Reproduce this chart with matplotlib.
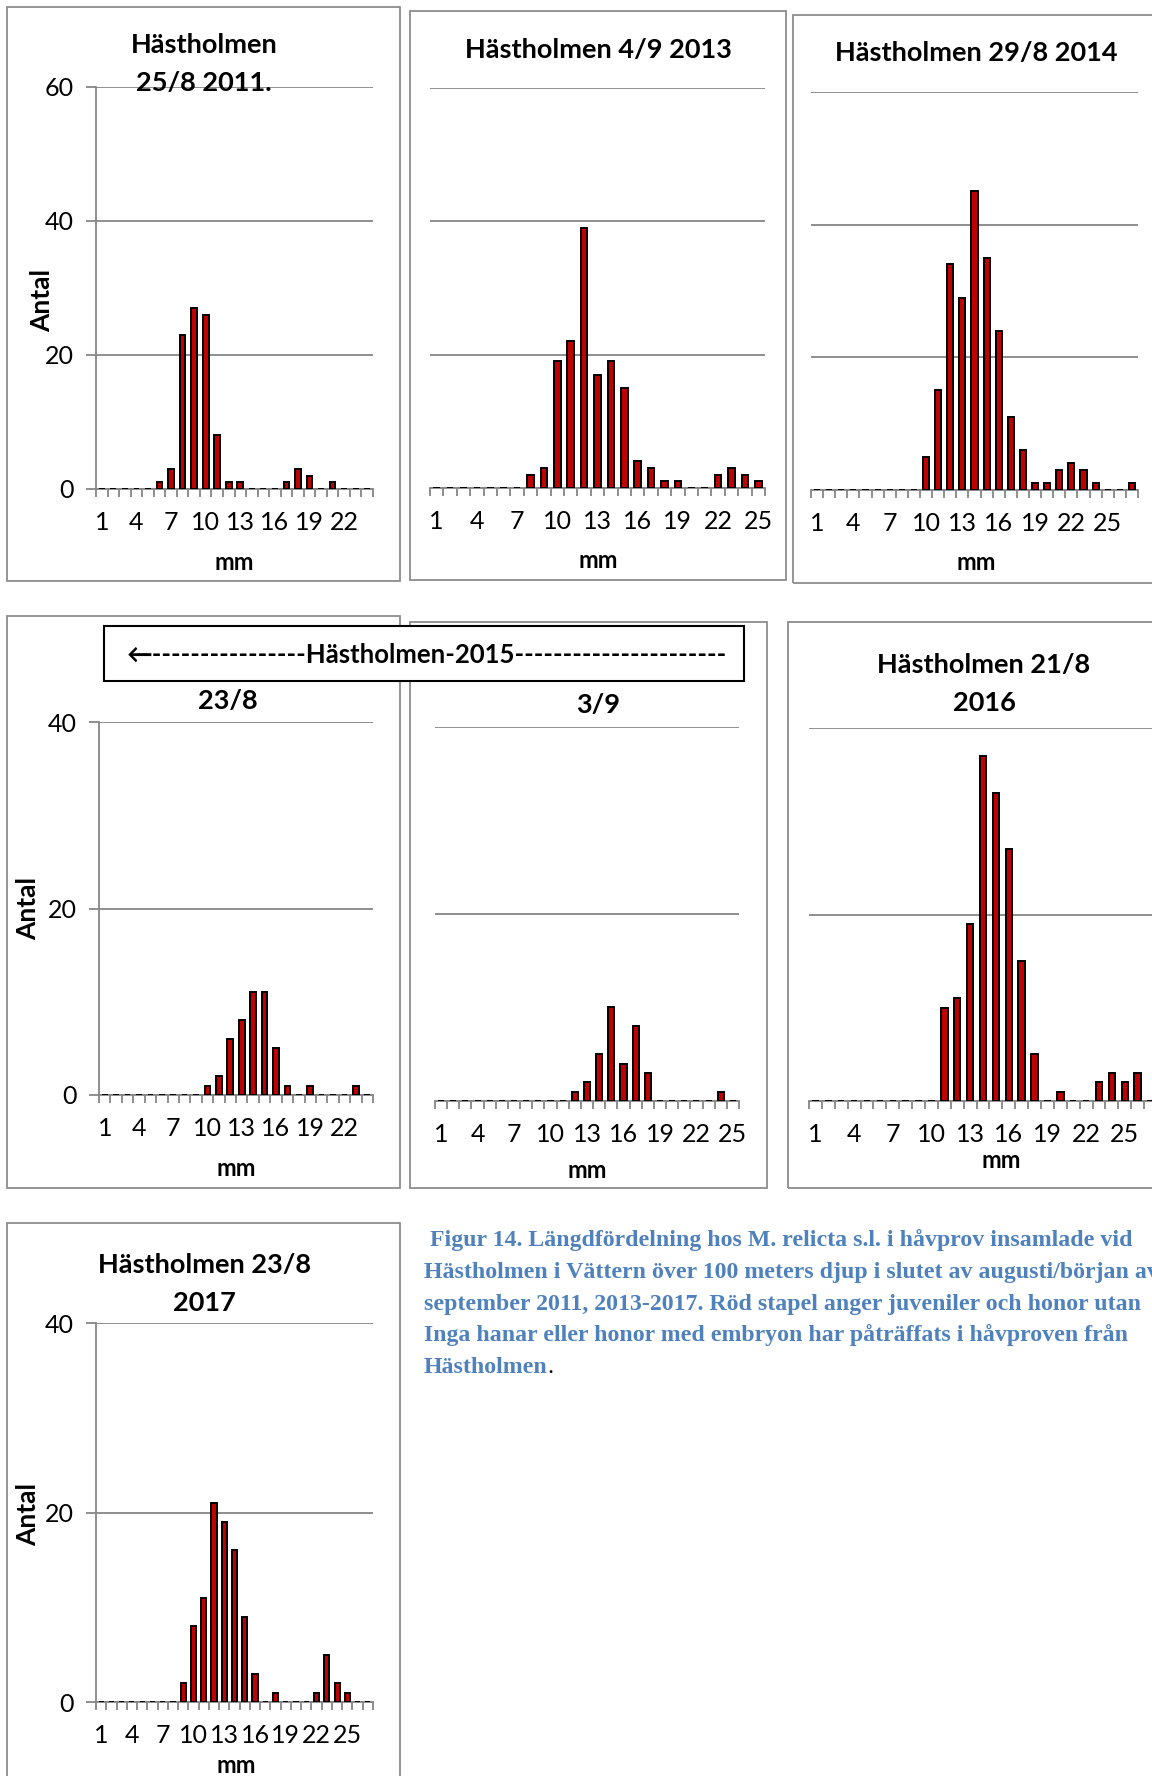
import matplotlib
matplotlib.use("Agg")
import matplotlib.pyplot as plt
from matplotlib.patches import Rectangle
from matplotlib.ticker import FixedLocator

plt.rcParams['font.family'] = ['Lato', 'DejaVu Sans']

W, H = 1152, 1776

# antal per längdklass (mm), från 1 mm och uppåt
counts_2011 = [0, 0, 0, 0, 0, 1, 3, 23, 27, 26, 8, 1, 1, 0, 0, 0, 1, 3, 2, 0, 1, 0, 0, 0]
counts_2013 = [0, 0, 0, 0, 0, 0, 0, 2, 3, 19, 22, 39, 17, 19, 15, 4, 3, 1, 1, 0, 0, 2, 3, 2, 1]
counts_2014 = [0, 0, 0, 0, 0, 0, 0, 0, 0, 5, 15, 34, 29, 45, 35, 24, 11, 6, 1, 1, 3, 4, 3, 1, 0, 0, 1]
counts_2015a = [0, 0, 0, 0, 0, 0, 0, 0, 0, 1, 2, 6, 8, 11, 11, 5, 1, 0, 1, 0, 0, 0, 1, 0]
counts_2015b = [0, 0, 0, 0, 0, 0, 0, 0, 0, 0, 0, 1, 2, 5, 10, 4, 8, 3, 0, 0, 0, 0, 0, 1, 0]
counts_2016 = [0, 0, 0, 0, 0, 0, 0, 0, 0, 0, 10, 11, 19, 37, 33, 27, 15, 5, 0, 1, 0, 0, 2, 3, 2, 3, 0]
counts_2017 = [0, 0, 0, 0, 0, 0, 0, 0, 2, 8, 11, 21, 19, 16, 9, 3, 0, 1, 0, 0, 0, 1, 5, 2, 1, 0, 0]

titles = ["Hästholmen\n25/8 2011.", "Hästholmen 4/9 2013", "Hästholmen 29/8 2014",
          "23/8", "3/9", "Hästholmen 21/8\n2016", "Hästholmen 23/8\n2017"]
series = [counts_2011, counts_2013, counts_2014, counts_2015a, counts_2015b, counts_2016, counts_2017]
ymax = [60, 60, 60, 40, 40, 40, 40]
show_y = [True, False, False, True, False, False, True]

legend_text = "←" + "-" * 16 + "Hästholmen-2015" + "-" * 22

caption = [" Figur 14. Längdfördelning hos M. relicta s.l. i håvprov insamlade vid",
           "Hästholmen i Vättern över 100 meters djup i slutet av augusti/början av",
           "september 2011, 2013-2017. Röd stapel anger juveniler och honor utan",
           "Inga hanar eller honor med embryon har påträffats i håvproven från",
           "Hästholmen"]

# layout in pixels: (left, top, right, bottom)
ax_px = [(96, 87, 373, 489), (430, 88, 765, 488), (811, 92, 1138, 490),
         (99, 722, 373, 1095), (435, 727, 739, 1101), (809, 728, 1157, 1101),
         (96, 1323, 373, 1702)]
box_px = [(7, 7, 400, 581), (410, 11, 786, 580), (793, 15, 1170, 583),
          (7, 616, 400, 1188), (410, 622, 767, 1188), (788, 622, 1170, 1188),
          (7, 1223, 400, 1800)]
title_px = [(204, 64), (598, 50), (976, 53), (228, 701), (598, 705), (984, 684), (204, 1284)]
mm_px = [(234, 562), (598, 560), (976, 563), (236, 1169), (587, 1171), (1001, 1160), (236, 1765)]
antal_px = [(42, 300), None, None, (28, 908), None, None, (28, 1514)]

GRID = '#868686'
RED = '#C00000'

fig = plt.figure(figsize=(W / 100, H / 100), dpi=100)


def fx(x):
    return x / W


def fy(y):
    return 1 - y / H


for i, counts in enumerate(series):
    l, t, r, b = ax_px[i]
    ax = fig.add_axes([fx(l), fy(b), fx(r) - fx(l), fy(t) - fy(b)])
    mm = list(range(1, len(counts) + 1))
    ax.bar(mm, counts, width=0.5, color=RED, edgecolor='black', linewidth=1.4, zorder=3)
    ax.set_xlim(0.5, len(counts) + 0.5)
    ax.set_ylim(0, ymax[i])
    ax.set_yticks(range(0, ymax[i] + 1, 20))
    ax.yaxis.grid(True, color=GRID, linewidth=1.3)
    ax.set_axisbelow(True)
    for s in ['top', 'right']:
        ax.spines[s].set_visible(False)
    ax.spines['bottom'].set_color(GRID)
    ax.spines['bottom'].set_linewidth(1.3)
    ax.set_xticks(mm[::3])
    ax.set_xticklabels([str(m) for m in mm[::3]])
    ax.xaxis.set_minor_locator(FixedLocator([m + 0.5 for m in range(0, len(counts) + 1)]))
    ax.tick_params(axis='x', which='major', length=0, pad=16, labelsize=18)
    ax.tick_params(axis='x', which='minor', length=6, width=1.3, color=GRID, direction='out')
    if show_y[i]:
        ax.spines['left'].set_color(GRID)
        ax.spines['left'].set_linewidth(1.3)
        ax.tick_params(axis='y', length=7, width=1.3, color=GRID, pad=9, labelsize=18)
    else:
        ax.spines['left'].set_visible(False)
        ax.tick_params(axis='y', length=0, labelleft=False)
    ax.patch.set_alpha(0)

    bl, bt, br, bb = box_px[i]
    fig.patches.append(Rectangle((fx(bl), fy(bb)), fx(br) - fx(bl), fy(bt) - fy(bb),
                                 transform=fig.transFigure, fill=False,
                                 edgecolor='#8c8c8c', linewidth=1.3, zorder=0))
    tx, ty = title_px[i]
    fig.text(fx(tx), fy(ty), titles[i], ha='center', va='center', fontsize=19.5,
             fontweight='bold', linespacing=1.68)
    mx, my = mm_px[i]
    fig.text(fx(mx), fy(my), "mm", ha='center', va='center', fontsize=17, fontweight='bold')
    if antal_px[i] is not None:
        axx, axy = antal_px[i]
        fig.text(fx(axx), fy(axy), "Antal", ha='center', va='center', rotation=90,
                 fontsize=19, fontweight='bold')

# ram med 2015-texten
fig.patches.append(Rectangle((fx(104), fy(681)), fx(744) - fx(104), fy(626) - fy(681),
                             transform=fig.transFigure, facecolor='white',
                             edgecolor='black', linewidth=1.5, zorder=5))
fig.text(fx(127), fy(655), legend_text, ha='left', va='center', fontsize=18.5,
         fontweight='bold', zorder=6)

# figurtext (går ut över högra kanten, som i originalet)
cap_y = [1240, 1272, 1304, 1335, 1367]
last = None
for k, line in enumerate(caption):
    last = fig.text(fx(424), fy(cap_y[k]), line, ha='left', va='center', fontsize=17.2,
                    fontweight='bold', color='#4F81BD', family='Liberation Serif')

fig.canvas.draw()
bb = last.get_window_extent()
fig.text(bb.x1 / W, fy(cap_y[-1]), ".", ha='left', va='center', fontsize=17.2,
         color='black', family='Liberation Serif')

plt.savefig('out.png', dpi=100)
